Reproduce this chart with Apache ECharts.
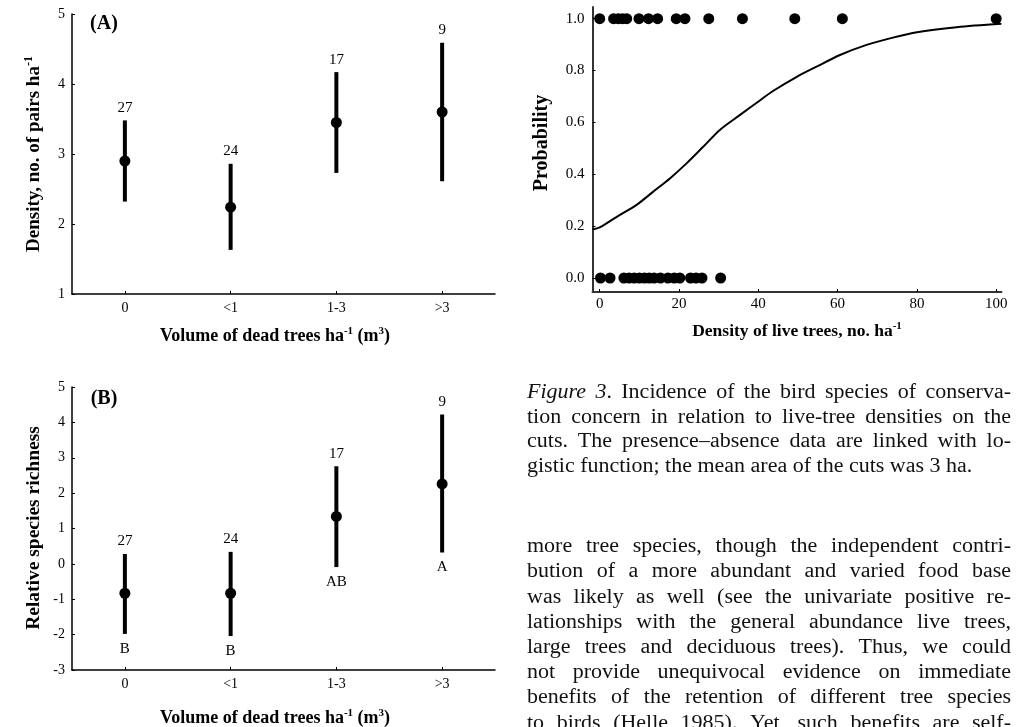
<!DOCTYPE html>
<html>
<head>
<meta charset="utf-8">
<script src="https://cdn.jsdelivr.net/npm/echarts@6/dist/echarts.min.js"></script>
<style>
  html, body { margin: 0; padding: 0; background: #fff; }
  #chart { width: 1024px; height: 727px; }
</style>
</head>
<body>
<div id="chart"></div>
<script>
// ---------- data ----------
const categories = ['0', '<1', '1-3', '>3'];

const densityMean = [2.90, 2.24, 3.45, 3.60];
const densityLow  = [2.32, 1.63, 2.73, 2.61];
const densityHigh = [3.48, 2.86, 4.17, 4.59];
const densityN    = ['27', '24', '17', '9'];

const richMean  = [-0.83, -0.83, 1.34, 2.26];
const richLow   = [-1.98, -2.04, -0.09, 0.32];
const richHigh  = [0.28, 0.34, 2.76, 4.22];
const richN     = ['27', '24', '17', '9'];
const richGroup = ['B', 'B', 'AB', 'A'];

const presenceX = [0, 3.5, 4.7, 5.8, 6.8, 9.9, 12.3, 14.6, 19.3, 21.5, 27.5, 36, 49.2, 61.2, 100];
const absenceX  = [0.2, 2.6, 6.1, 7.4, 8.7, 10.0, 11.3, 12.5, 13.7, 15.3, 17.2, 18.8, 20.2, 22.9, 24.3, 25.8, 30.5];

const curveX = [-1.8, 0, 4.3, 9.3, 13.5, 17.7, 21.9, 26.1, 30.3, 35.4, 39.6, 43.8, 49.7, 54.7, 60.6, 67.3, 73.2, 80, 90, 101.3];
const curveP = [0.187, 0.195, 0.236, 0.282, 0.333, 0.384, 0.442, 0.506, 0.571, 0.629, 0.676, 0.722, 0.776, 0.815, 0.86, 0.899, 0.924, 0.948, 0.967, 0.98];

const densityTicks = [1, 2, 3, 4, 5];
const richTicks = [-3, -2, -1, 0, 1, 2, 3, 4, 5];
const liveTreeTicks = [0, 20, 40, 60, 80, 100];
const probTicks = [0, 0.2, 0.4, 0.6, 0.8, 1.0];

const captionLines = [
  '*Figure 3*. Incidence of the bird species of conserva-',
  'tion concern in relation to live-tree densities on the',
  'cuts. The presence\u2013absence data are linked with lo-',
  'gistic function; the mean area of the cuts was 3 ha.'
];
const bodyLines = [
  'more tree species, though the independent contri-',
  'bution of a more abundant and varied food base',
  'was likely as well (see the univariate positive re-',
  'lationships with the general abundance live trees,',
  'large trees and deciduous trees). Thus, we could',
  'not provide unequivocal evidence on immediate',
  'benefits of the retention of different tree species',
  'to birds (Helle 1985). Yet, such benefits are self-'
];

// ---------- helpers ----------
const F = '"Liberation Serif", "Times New Roman", serif';
const measureCtx = document.createElement('canvas').getContext('2d');

function justifyText(lines, x0, x1, y0, dy, fontSize, sx, justifyLast) {
  const els = [];
  let italic = false;
  lines.forEach((line, li) => {
    const words = line.split(' ');
    const wordPieces = words.map(w => {
      const parts = w.split('*');
      const pieces = [];
      parts.forEach((p, k) => {
        if (k > 0) italic = !italic;
        if (p) pieces.push({ t: p, it: italic });
      });
      return pieces;
    });
    const fontOf = it => (it ? 'italic ' : '') + fontSize + 'px ' + F;
    let total = 0;
    wordPieces.forEach(ps => ps.forEach(p => {
      measureCtx.font = fontOf(p.it);
      p.w = measureCtx.measureText(p.t).width * sx;
      total += p.w;
    }));
    measureCtx.font = fontOf(false);
    const spaceW = measureCtx.measureText(' ').width * sx;
    const isLast = (li === lines.length - 1) && !justifyLast;
    let gap = isLast ? spaceW : (x1 - x0 - total) / (words.length - 1);
    if (gap < spaceW * 0.6) gap = spaceW * 0.6;
    let x = x0;
    const y = y0 + li * dy;
    wordPieces.forEach(ps => {
      ps.forEach(p => {
        els.push({
          type: 'text', x: x, y: y, scaleX: sx, silent: true,
          style: {
            text: p.t, fontSize: fontSize, fontFamily: F,
            fontStyle: p.it ? 'italic' : 'normal',
            fill: '#111', align: 'left', verticalAlign: 'middle'
          }
        });
        x += p.w;
      });
      x += gap;
    });
  });
  return els;
}

function makeErrRender(means, lows, highs, topLabels, bottomLabels) {
  return function (params, api) {
    const i = params.dataIndex;
    const c = api.value(0);
    const pm = api.coord([c, means[i]]);
    const pl = api.coord([c, lows[i]]);
    const ph = api.coord([c, highs[i]]);
    const children = [
      { type: 'line', shape: { x1: ph[0], y1: ph[1], x2: pl[0], y2: pl[1] },
        style: { stroke: '#000', lineWidth: 4 } },
      { type: 'circle', shape: { cx: pm[0], cy: pm[1], r: 5.5 },
        style: { fill: '#000' } },
      { type: 'text', x: ph[0], y: ph[1] - 12.5,
        style: { text: topLabels[i], fontSize: 15, fontFamily: F, fill: '#000',
                 align: 'center', verticalAlign: 'middle' } }
    ];
    if (bottomLabels) {
      children.push({ type: 'text', x: pl[0], y: pl[1] + 15,
        style: { text: bottomLabels[i], fontSize: 15, fontFamily: F, fill: '#000',
                 align: 'center', verticalAlign: 'middle' } });
    }
    return { type: 'group', children: children };
  };
}

function catAxis(gridIndex) {
  return {
    type: 'category', gridIndex: gridIndex, data: categories, boundaryGap: true,
    axisLine: { onZero: false, lineStyle: { color: '#000', width: 1.5 } },
    axisTick: { show: true, alignWithLabel: true, inside: true, length: 3, lineStyle: { color: '#000' } },
    axisLabel: { fontFamily: F, fontSize: 14, color: '#000', margin: 7 },
    splitLine: { show: false }
  };
}
function valAxis(gridIndex, ticks) {
  return {
    type: 'value', gridIndex: gridIndex,
    min: ticks[0], max: ticks[ticks.length - 1], interval: 1,
    axisLine: { show: true, onZero: false, lineStyle: { color: '#000', width: 1.5 } },
    axisTick: { show: true, inside: true, length: 3, lineStyle: { color: '#000' } },
    axisLabel: { fontFamily: F, fontSize: 14, color: '#000', margin: 7 },
    splitLine: { show: false }
  };
}

const idx = categories.map((c, i) => [i]);

const titleStyle = (txt, size) => ({
  text: txt, fontSize: size, fontWeight: 'bold', fontFamily: F, fill: '#000',
  align: 'center', verticalAlign: 'middle',
  rich: { s: { fontSize: Math.round(size * 0.62), fontWeight: 'bold', fontFamily: F, fill: '#000',
               padding: [0, 0, Math.round(size * 0.55), 0] } }
});

const graphics = [
  { type: 'text', x: 104, y: 24, style: titleStyle('(A)', 20) },
  { type: 'text', x: 104, y: 399, style: titleStyle('(B)', 20) },
  { type: 'text', x: 34, y: 154, rotation: Math.PI / 2, style: titleStyle('Density, no. of pairs ha{s|-1}', 19) },
  { type: 'text', x: 275, y: 336, style: titleStyle('Volume of dead trees ha{s|-1} (m{s|3})', 18) },
  { type: 'text', x: 34, y: 528, rotation: Math.PI / 2, style: titleStyle('Relative species richness', 19.5) },
  { type: 'text', x: 275, y: 718, style: titleStyle('Volume of dead trees ha{s|-1} (m{s|3})', 18) },
  { type: 'text', x: 542, y: 143, rotation: Math.PI / 2, style: titleStyle('Probability', 20) },
  { type: 'text', x: 797, y: 331, style: titleStyle('Density of live trees, no. ha{s|-1}', 17.5) }
].concat(
  justifyText(captionLines, 527, 1011, 393, 24.5, 20, 1.1, false),
  justifyText(bodyLines, 527, 1011, 547, 25.2, 20, 1.1, true)
);

const option = {
  backgroundColor: '#fff',
  animation: false,
  grid: [
    { left: 72, top: 14, width: 423, height: 280 },
    { left: 72, top: 387, width: 423, height: 283 },
    { left: 592.5, top: 7, width: 409, height: 285 }
  ],
  xAxis: [
    catAxis(0),
    catAxis(1),
    {
      type: 'value', gridIndex: 2, min: -1.82, max: 101.34,
      axisLine: { show: true, onZero: false, lineStyle: { color: '#333', width: 2 } },
      axisTick: { show: true, inside: true, length: 3, customValues: liveTreeTicks, lineStyle: { color: '#000' } },
      axisLabel: { fontFamily: F, fontSize: 15, color: '#000', margin: 5, customValues: liveTreeTicks },
      splitLine: { show: false }
    }
  ],
  yAxis: [
    valAxis(0, densityTicks),
    valAxis(1, richTicks),
    {
      type: 'value', gridIndex: 2, min: -0.054, max: 1.045,
      axisLine: { show: true, onZero: false, lineStyle: { color: '#333', width: 2 } },
      axisTick: { show: true, inside: true, length: 3, customValues: probTicks, lineStyle: { color: '#000' } },
      axisLabel: { fontFamily: F, fontSize: 15, color: '#000', margin: 8, customValues: probTicks,
                   formatter: v => v.toFixed(1) },
      splitLine: { show: false }
    }
  ],
  series: [
    { type: 'custom', xAxisIndex: 0, yAxisIndex: 0, data: idx,
      renderItem: makeErrRender(densityMean, densityLow, densityHigh, densityN, null) },
    { type: 'custom', xAxisIndex: 1, yAxisIndex: 1, data: idx,
      renderItem: makeErrRender(richMean, richLow, richHigh, richN, richGroup) },
    { type: 'line', xAxisIndex: 2, yAxisIndex: 2, smooth: 0.3, showSymbol: false,
      lineStyle: { color: '#000', width: 2 },
      data: curveX.map((x, i) => [x, curveP[i]]) },
    { type: 'scatter', xAxisIndex: 2, yAxisIndex: 2, symbolSize: 11,
      itemStyle: { color: '#000', opacity: 1 }, data: presenceX.map(x => [x, 1]) },
    { type: 'scatter', xAxisIndex: 2, yAxisIndex: 2, symbolSize: 11,
      itemStyle: { color: '#000', opacity: 1 }, data: absenceX.map(x => [x, 0]) }
  ],
  graphic: graphics
};

const chart = echarts.init(document.getElementById('chart'), null, { renderer: 'canvas' });
chart.setOption(option);
</script>
</body>
</html>
